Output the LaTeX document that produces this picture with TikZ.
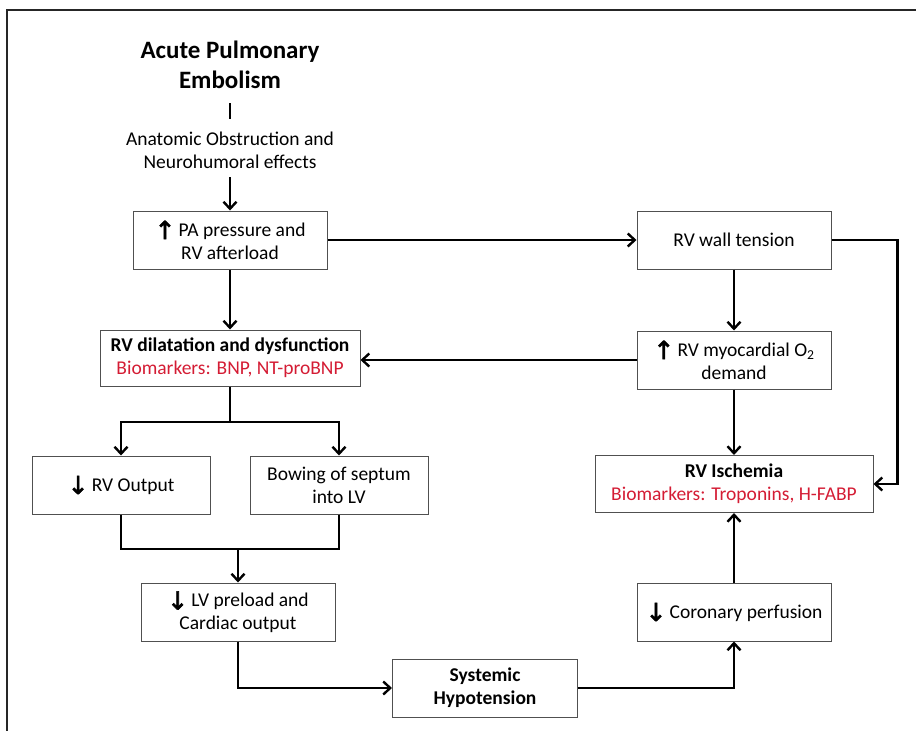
\documentclass[tikz,border=0pt]{standalone}
\usepackage{fontspec}
\setmainfont{Carlito}
\newfontfamily\arrfont[FakeBold=2.5]{DejaVu Sans}
\usetikzlibrary{arrows.meta}
\definecolor{bmred}{RGB}{212,28,52}
\definecolor{boxgray}{RGB}{80,80,80}
\newcommand{\upar}{\raisebox{-3pt}{\arrfont\fontsize{25}{25}\selectfont ↑}}
\newcommand{\dnar}{\raisebox{-3pt}{\arrfont\fontsize{25}{25}\selectfont ↓}}
\begin{document}
\begin{tikzpicture}[x=1pt,y=-1pt,
  every node/.style={font=\fontsize{19.5}{23}\selectfont},
  box/.style={draw=boxgray,line width=1pt,align=center,inner sep=2pt},
  conn/.style={line width=2.6pt,black},
  arr/.style={conn,-{Straight Barb[length=7pt,width=13pt,line width=2.4pt]}}
]
\useasboundingbox (0,0) rectangle (916,731);
% frame (top and left edges only)
\draw[line width=2.2pt,black!85] (7,731) -- (7,10) -- (916,10);

% title and cause text
\node[align=center,inner sep=0pt,font=\fontsize{25}{30}\selectfont\bfseries] (title) at (230,65) {Acute Pulmonary\\Embolism};
\node[align=center,inner sep=0pt] (anat) at (230,150) {Anatomic Obstruction and\\Neurohumoral effects};

% boxes
\node[box,minimum width=194pt,minimum height=58pt] (pa) at (230,240) {\upar\,PA pressure and\\RV afterload};
\node[box,minimum width=260pt,minimum height=56pt] (dil) at (230,358) {\textbf{RV dilatation and dysfunction}\\\textcolor{bmred}{Biomarkers: BNP, NT-proBNP}};
\node[box,minimum width=178pt,minimum height=58pt] (rvo) at (121,485) {\dnar\,RV Output};
\node[box,minimum width=178pt,minimum height=58pt] (bow) at (339,485) {Bowing of septum\\into LV};
\node[box,minimum width=194pt,minimum height=58pt] (lv) at (238,612) {\dnar\,LV preload and\\Cardiac output};
\node[box,minimum width=185pt,minimum height=58pt] (sys) at (485,688) {\textbf{Systemic}\\\textbf{Hypotension}};
\node[box,minimum width=194pt,minimum height=58pt] (wall) at (734,240) {RV wall tension};
\node[box,minimum width=194pt,minimum height=58pt] (myo) at (734,360) {\upar\,RV myocardial O\textsubscript{2}\\demand};
\node[box,minimum width=278pt,minimum height=57pt] (isch) at (734,484) {\textbf{RV Ischemia}\\\textcolor{bmred}{Biomarkers: Troponins, H-FABP}};
\node[box,minimum width=194pt,minimum height=58pt] (cor) at (734,612) {\dnar\,Coronary perfusion};

% connectors
\draw[conn,shorten <=38pt,shorten >=31pt] (title.center) -- (anat.center);
\draw[arr,shorten <=27pt] (anat.center) -- (pa.north);
\draw[arr] (pa.east) -- (wall.west);
\draw[arr] (pa.south) -- (dil.north);
\draw[arr] (wall.south) -- (myo.north);
\draw[arr] (myo.west) -- (myo.west -| dil.east);
\draw[arr] (myo.south) -- (isch.north);
\draw[arr] (wall.east) -- ++(66,0) |- (isch.east);
% branch from dilatation
\coordinate (split) at (230,422);
\draw[conn] (dil.south) -- (split);
\draw[arr] (split) -| (rvo.north);
\draw[arr] (split) -| (bow.north);
% merge into LV
\coordinate (merge) at (238,549);
\draw[conn] (rvo.south) |- (merge);
\draw[conn] (bow.south) |- (merge);
\draw[arr] (merge) -- (lv.north);
% bottom path
\draw[arr] (lv.south) |- (sys.west);
\draw[arr] (sys.east) -| (cor.south);
\draw[arr] (cor.north) -- (isch.south);
\end{tikzpicture}
\end{document}
